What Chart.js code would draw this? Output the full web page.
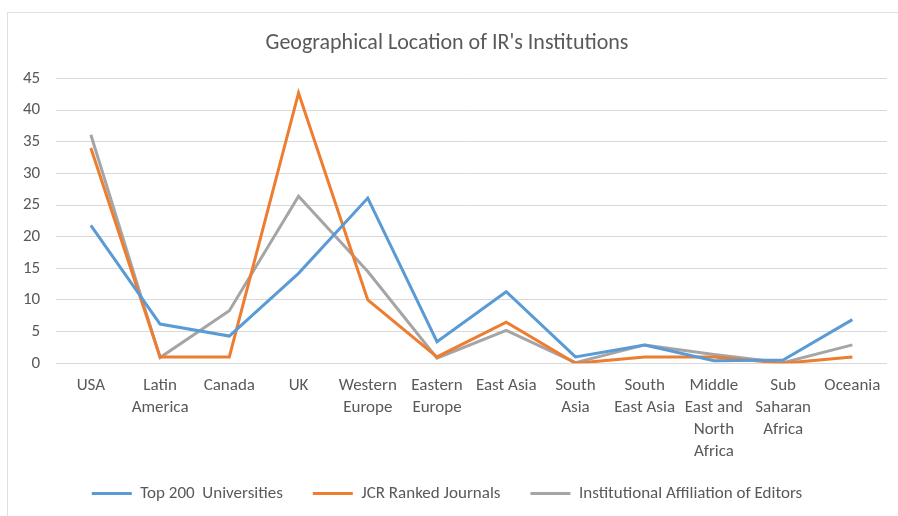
<!DOCTYPE html>
<html>
<head>
<meta charset="utf-8">
<script src="https://cdn.jsdelivr.net/npm/chart.js@4/dist/chart.umd.min.js"></script>
<style>
  body { margin: 0; background: #fff; }
  #wrap { position: relative; width: 898px; height: 516px; overflow: hidden; }
  #frame { position: absolute; left: 7px; top: 12px; width: 1000px; height: 1000px; border: 1px solid #e3dfdf; }
  canvas { position: absolute; left: 0; top: 0; }
</style>
</head>
<body>
<div id="wrap">
  <div id="frame"></div>
  <canvas id="geoChart" width="898" height="516"></canvas>
</div>
<script>
const regions = [
  'USA', ['Latin', 'America'], 'Canada', 'UK', ['Western', 'Europe'], ['Eastern', 'Europe'],
  'East Asia', ['South', 'Asia'], ['South', 'East Asia'], ['Middle', 'East and', 'North', 'Africa'],
  ['Sub', 'Saharan', 'Africa'], 'Oceania'
];
const top200 = [21.8, 6.2, 4.3, 14.2, 26.1, 3.4, 11.3, 1.0, 2.9, 0.4, 0.5, 6.9];
const jcrJournals = [34, 1, 1, 42.7, 10, 1, 6.5, 0, 1, 1, 0, 1];
const editors = [36.1, 0.9, 8.3, 26.4, 14.5, 0.8, 5.2, 0.1, 2.9, 1.4, 0.1, 2.9];
const yTicks = [0, 5, 10, 15, 20, 25, 30, 35, 40, 45];

const textColor = '#595959';
const font = 'Carlito, Calibri, "Open Sans", sans-serif';

const ctx = document.getElementById('geoChart').getContext('2d');
new Chart(ctx, {
  type: 'line',
  data: {
    labels: regions,
    datasets: [
      { label: 'Top 200  Universities', data: top200, borderColor: '#5B9BD5', backgroundColor: '#5B9BD5', borderWidth: 3 },
      { label: 'JCR Ranked Journals', data: jcrJournals, borderColor: '#ED7D31', backgroundColor: '#ED7D31', borderWidth: 3 },
      { label: 'Institutional Affiliation of Editors', data: editors, borderColor: '#A5A5A5', backgroundColor: '#A5A5A5', borderWidth: 3 }
    ]
  },
  options: {
    responsive: false,
    animation: false,
    layout: { padding: { left: 7, right: 11, top: 30, bottom: 4 } },
    elements: {
      line: { borderWidth: 3, tension: 0 },
      point: { radius: 0 }
    },
    scales: {
      x: {
        offset: true,
        grid: { display: false, drawTicks: false },
        border: { display: false },
        ticks: { color: textColor, font: { family: font, size: 17, lineHeight: 1.29 }, maxRotation: 0, autoSkip: false, padding: 12 },
        // let the tall labels hang into the legend's top padding (and don't clip them)
        afterFit: axis => {
          axis.height -= 20;
          axis._computeLabelArea = () => undefined;
        }
      },
      y: {
        min: 0,
        max: 45,
        afterBuildTicks: axis => { axis.ticks = yTicks.map(v => ({ value: v })); },
        grid: { color: '#d9d9d9', drawTicks: false, lineWidth: 1 },
        border: { display: false },
        ticks: { color: textColor, font: { family: font, size: 17 }, padding: 16 }
      }
    },
    plugins: {
      title: {
        display: true,
        text: "Geographical Location of IR's Institutions",
        color: textColor,
        font: { family: font, size: 22, weight: 'normal' },
        padding: { top: 0, bottom: 22 }
      },
      legend: {
        position: 'bottom',
        labels: {
          color: textColor,
          font: { family: font, size: 17 },
          usePointStyle: true,
          pointStyle: 'line',
          pointStyleWidth: 40,
          padding: 30
        }
      },
      tooltip: { enabled: false }
    }
  }
});
</script>
</body>
</html>
